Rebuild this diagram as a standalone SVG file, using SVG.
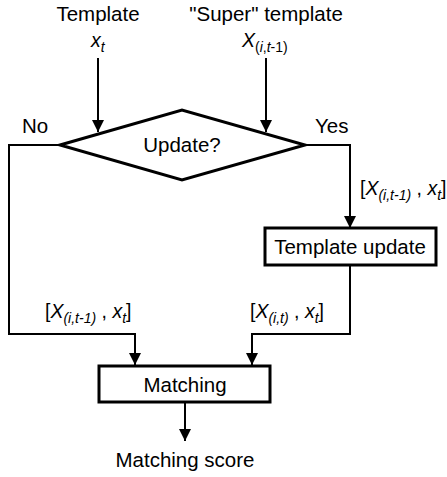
<svg xmlns="http://www.w3.org/2000/svg" width="447" height="477" viewBox="0 0 447 477">
<defs>
<style>
text{font-family:"Liberation Sans",Arial,sans-serif;font-size:20.5px;fill:#000}
.c{text-anchor:middle}
.i{font-style:italic}
.s{font-size:14px}
.m{font-size:19.5px}
.node{fill:#fff;stroke:#000;stroke-width:3}
.edge{fill:none;stroke:#000;stroke-width:2}
</style>
<marker id="ah" viewBox="0 0 10 10" refX="10" refY="5" markerWidth="12" markerHeight="12" markerUnits="userSpaceOnUse" orient="auto">
<path d="M0,0 L10,5 L0,10 z" fill="#000"/>
</marker>
</defs>
<rect width="447" height="477" fill="#fff"/>
<g id="connectors">
<path class="edge" d="M98,58 V132" marker-end="url(#ah)"/>
<path class="edge" d="M266,58 V132" marker-end="url(#ah)"/>
<path class="edge" d="M60,145 H9 V334 H135 V365" marker-end="url(#ah)"/>
<path class="edge" d="M305,145 H350 V228" marker-end="url(#ah)"/>
<path class="edge" d="M350,265 V334 H252 V365" marker-end="url(#ah)"/>
<path class="edge" d="M185,402 V441" marker-end="url(#ah)"/>
</g>
<g id="input-template">
<text class="c" x="98" y="21">Template</text>
<text class="m" x="91" y="47"><tspan class="i">x</tspan><tspan class="i s" dy="5">t</tspan></text>
</g>
<g id="input-super">
<text class="c" x="266" y="21">"Super" template</text>
<text class="m" x="242" y="47"><tspan class="i">X</tspan><tspan class="s" dy="5">(<tspan class="i">i</tspan>,<tspan class="i">t</tspan>-1)</tspan></text>
</g>
<g id="decision">
<polygon class="node" points="60,145 182,110 305,145 182,180"/>
<text class="c" x="182" y="152">Update?</text>
<text x="22" y="133">No</text>
<text x="315" y="133">Yes</text>
</g>
<g id="template-update">
<rect class="node" x="265" y="228" width="171" height="37"/>
<text class="c" x="350" y="254">Template update</text>
</g>
<g id="matching">
<rect class="node" x="99" y="366" width="171" height="36"/>
<text class="c" x="185" y="392">Matching</text>
</g>
<g id="output">
<text class="c" x="185" y="467">Matching score</text>
</g>
<g id="labels">
<text class="m" x="360" y="195">[<tspan class="i">X</tspan><tspan class="i s" dy="5">(i,t-1)</tspan><tspan dy="-5"> , </tspan><tspan class="i">x</tspan><tspan class="i s" dy="5">t</tspan><tspan dy="-5">]</tspan></text>
<text class="m" x="45" y="318">[<tspan class="i">X</tspan><tspan class="i s" dy="5">(i,t-1)</tspan><tspan dy="-5"> , </tspan><tspan class="i">x</tspan><tspan class="i s" dy="5">t</tspan><tspan dy="-5">]</tspan></text>
<text class="m" x="250" y="318">[<tspan class="i">X</tspan><tspan class="i s" dy="5">(i,t)</tspan><tspan dy="-5"> , </tspan><tspan class="i">x</tspan><tspan class="i s" dy="5">t</tspan><tspan dy="-5">]</tspan></text>
</g>
</svg>
